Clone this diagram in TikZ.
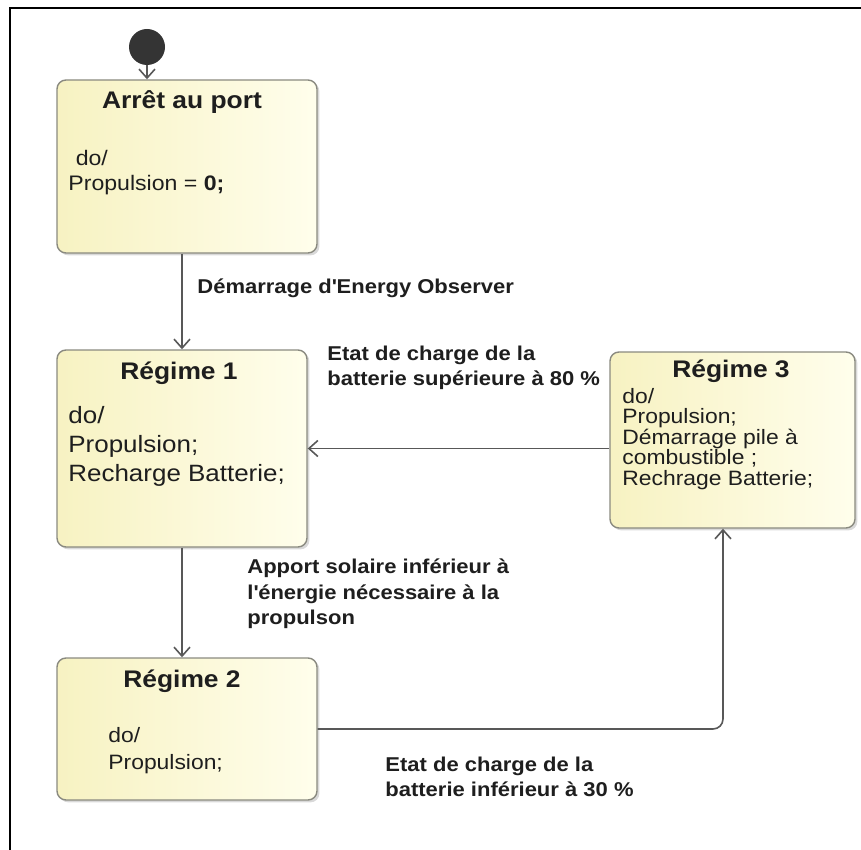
\documentclass[tikz,border=0pt]{standalone}
\usepackage{fontspec}
\setmainfont{Liberation Sans}[FakeStretch=1.1]
\usepackage{xcolor}
\usepackage{tikz}
\usetikzlibrary{arrows.meta,positioning,calc,shadows}
\definecolor{stateDark}{HTML}{F7F2C2}
\definecolor{stateLight}{HTML}{FFFEEC}
\definecolor{boxEdge}{HTML}{8A8A80}
\definecolor{lineGray}{HTML}{585858}
\definecolor{dotGray}{HTML}{343434}
\definecolor{inkText}{HTML}{1E1E1E}

\begin{document}
\begin{tikzpicture}[
    x=0.5pt, y=-0.5pt,
    every node/.style={text=inkText},
    statebox/.style={draw=boxEdge, line width=0.7pt, rounded corners=4.5pt, left color=stateDark, right color=stateLight,
        drop shadow={opacity=0.3, shadow xshift=1.2pt, shadow yshift=-1.2pt}},
    statetitle/.style={font=\bfseries\fontsize{12}{14}\selectfont, inner sep=0pt},
    statebody/.style={align=left, anchor=west, inner sep=0pt},
    guard/.style={font=\bfseries\fontsize{10}{12.8}\selectfont, align=left, anchor=west, inner sep=0pt},
    trans/.style={draw=lineGray, line width=0.8pt, -{Straight Barb[length=4.5pt,width=8pt]}}
]
    \useasboundingbox (0,0) rectangle (861,850);
    \draw[line width=1.1pt] (10,850) -- (10,8) -- (861,8);

    % states
    \node[circle, fill=dotGray, minimum size=18pt, inner sep=0pt] (init) at (147,47) {};
    \node[statebox, minimum width=130pt, minimum height=86.5pt] (port) at (187,166.5) {};
    \node[statebox, minimum width=125pt, minimum height=98.5pt] (reg1) at (182,448.5) {};
    \node[statebox, minimum width=122.5pt, minimum height=88pt] (reg3) at (732.5,440) {};
    \node[statebox, minimum width=130pt, minimum height=71pt] (reg2) at (187,729) {};

    % state contents
    \node[statetitle] (portT) at (182,102) {Arrêt au port};
    \node[statebody, font=\fontsize{10.5}{12.5}\selectfont] (portB) at (68,173) {\hspace{0.35em}do/\\Propulsion = \textbf{0;}};
    \node[statetitle] (reg1T) at (179,373) {Régime 1};
    \node[statebody, font=\fontsize{11.8}{14.5}\selectfont] (reg1B) at (68,446) {do/\\Propulsion;\\Recharge Batterie;};
    \node[statetitle] (reg3T) at (731,371) {Régime 3};
    \node[statebody, font=\fontsize{10.4}{10.2}\selectfont] (reg3B) at (622,439) {do/\\Propulsion;\\Démarrage pile à\\combustible ;\\Rechrage Batterie;};
    \node[statetitle] (reg2T) at (182,681) {Régime 2};
    \node[statebody, font=\fontsize{10.4}{13.5}\selectfont] (reg2B) at (108,751) {do/\\Propulsion;};

    % transitions
    \coordinate (r3in) at ([xshift=-4.75pt]reg3.south);
    \draw[trans] (init) -- (init |- port.north);
    \draw[trans] (reg1.north |- port.south) -- (reg1.north);
    \draw[trans] (reg3.west |- reg1.east) -- (reg1.east);
    \draw[trans] (reg1.south) -- (reg1.south |- reg2.north);
    \draw[trans, rounded corners=5pt] (reg2.east) -| (r3in);

    % guards
    \node[guard] (g1) at (197,288) {Démarrage d\textquotesingle Energy Observer};
    \node[guard] (g2) at (327,368) {Etat de charge de la\\batterie supérieure à 80 \%};
    \node[guard] (g3) at (247,594) {Apport solaire inférieur à\\l\textquotesingle énergie nécessaire à la\\propulson};
    \node[guard] (g4) at (385,777) {Etat de charge de la\\batterie inférieur à 30 \%};
\end{tikzpicture}
\end{document}
